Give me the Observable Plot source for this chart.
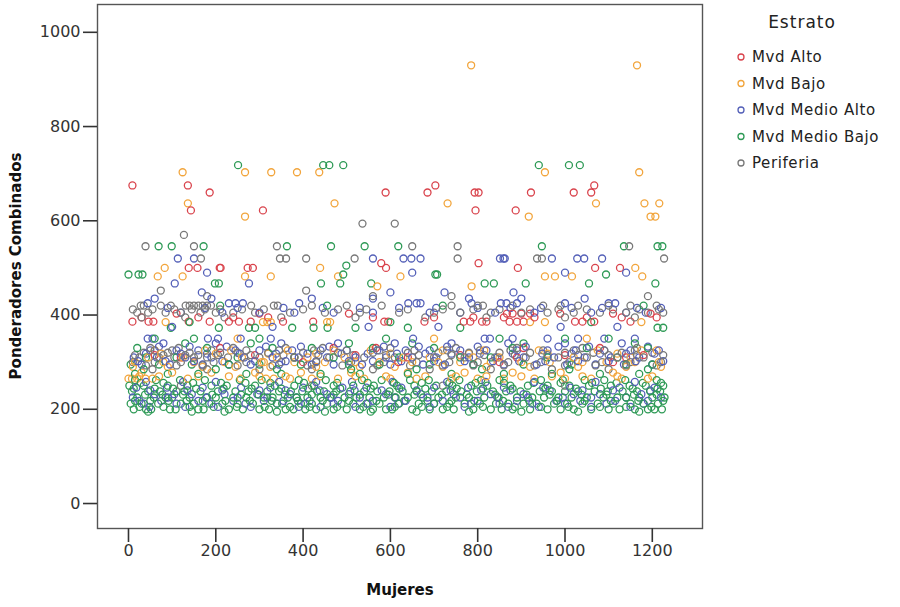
<!DOCTYPE html>
<html>
<head>
<meta charset="utf-8">
<script src="https://cdn.jsdelivr.net/npm/d3@7"></script>
<script src="https://cdn.jsdelivr.net/npm/@observablehq/plot@0.6"></script>
<style>
  html, body { margin: 0; padding: 0; background: #fff; }
  #chart svg { display: block; }
</style>
</head>
<body>
<div id="chart"></div>
<script>
// ---- Data ---------------------------------------------------------------
const estratos = ["Mvd Alto", "Mvd Bajo", "Mvd Medio Alto", "Mvd Medio Bajo", "Periferia"];
const colores = ["#d9434c", "#f2a53c", "#5460b8", "#2e9a56", "#787878"];
const xTicks = [0, 200, 400, 600, 800, 1000, 1200];
const yTicks = [0, 200, 400, 600, 800, 1000];

// rows: [ponderador, [mujer (case index), ...]]
const mvdAlto = [
  [675, [9, 136, 703, 1067]],
  [660, [186, 589, 685, 793, 802, 922, 1020, 1060]],
  [622, [143, 308, 795, 887]],
  [510, [579, 802]],
  [500, [138, 158, 209, 211, 273, 285, 590, 892, 1069, 1126]],
  [403, [110, 300, 505, 867, 880, 900, 920, 989, 1110, 1196]],
  [395, [30, 160, 240, 320, 560, 700, 790, 860, 930, 1050, 1130, 1210]],
  [386, [9, 46, 57, 138, 186, 230, 253, 280, 354, 423, 586, 595, 678, 768, 783, 810, 820, 873, 890, 905, 1023, 1040, 1067, 1150]],
  [330, [210, 470, 567, 905, 1080]],
  [315, [60, 290, 520, 760, 1000, 1180]],
  [310, [120, 380, 640, 890, 1140]],
  [300, [150, 400, 618, 850, 1110]]
];
const mvdBajo = [
  [930, [785, 1165]],
  [703, [124, 267, 327, 386, 437, 954, 1170]],
  [637, [136, 472, 731, 1071, 1182, 1216]],
  [609, [267, 917, 1196, 1207]],
  [500, [83, 439, 1161]],
  [482, [67, 124, 267, 326, 480, 623, 954, 977, 1016, 1177]],
  [461, [570, 786]],
  [385, [85, 308, 318, 326, 455, 462, 920, 954, 1175]],
  [350, [250, 700, 1050]],
  [325, [60, 175, 235, 365, 470, 555, 720, 815, 940, 1075, 1175, 1210]],
  [318, [75, 200, 320, 430, 600, 780, 960, 1120]],
  [310, [45, 125, 260, 340, 410, 495, 630, 690, 790, 850, 1020, 1150]],
  [300, [15, 80, 150, 220, 305, 310, 380, 450, 520, 575, 650, 710, 760, 830, 900, 965, 1040, 1095, 1160, 1215]],
  [290, [10, 90, 170, 245, 325, 430, 530, 610, 720, 820, 920, 1030, 1140, 1220]],
  [278, [30, 100, 190, 290, 395, 510, 640, 770, 880, 990, 1110]],
  [270, [25, 70, 160, 230, 300, 360, 440, 520, 590, 680, 750, 820, 900, 970, 1040, 1120, 1200]],
  [265, [0, 8, 20, 39, 55, 136, 257, 315, 333, 370, 420, 480, 540, 600, 660, 740, 800, 860, 930, 1000, 1060, 1130, 1190]]
];
const mvdMedioAlto = [
  [520, [113, 150, 560, 630, 648, 669, 851, 859, 862, 970, 1028, 1044, 1085]],
  [490, [180, 650, 1000, 1140]],
  [467, [106, 276]],
  [448, [168, 600, 724, 882]],
  [435, [60, 190, 420, 560, 780, 900, 1045]],
  [425, [44, 230, 245, 262, 391, 641, 660, 669, 786, 853, 866, 890, 1000, 1100, 1115]],
  [415, [90, 175, 250, 355, 445, 530, 620, 705, 800, 875, 945, 1015, 1085, 1165, 1220]],
  [405, [120, 215, 300, 380, 470, 560, 690, 760, 840, 930, 1060, 1140, 1185]],
  [375, [100, 330, 550, 710, 990, 1120]],
  [350, [44, 55, 182, 205, 257, 326, 652, 816, 828, 880, 960, 1030, 1090, 1160]],
  [340, [80, 200, 350, 480, 610, 740, 870, 1000, 1130]],
  [333, [70, 140, 225, 315, 395, 460, 585, 665, 730, 800, 910, 985, 1055, 1190]],
  [325, [50, 110, 160, 245, 300, 375, 440, 500, 570, 635, 690, 760, 820, 890, 960, 1025, 1090, 1150, 1215]],
  [318, [40, 120, 180, 255, 338, 410, 488, 548, 615, 680, 740, 805, 880, 948, 1015, 1080, 1140, 1205]],
  [310, [12, 65, 130, 190, 265, 330, 390, 455, 520, 590, 650, 705, 780, 845, 905, 975, 1045, 1105, 1170]],
  [302, [22, 85, 150, 215, 290, 360, 430, 505, 560, 625, 700, 770, 835, 895, 955, 1030, 1100, 1162, 1225]],
  [295, [30, 95, 170, 230, 280, 345, 420, 470, 535, 600, 675, 725, 790, 860, 935, 1005, 1070, 1135, 1200]],
  [258, [40, 125, 200, 345, 430, 512, 605, 730, 818, 930, 1070, 1160]],
  [246, [18, 88, 170, 258, 325, 400, 490, 545, 625, 700, 778, 860, 950, 1012, 1125, 1205]],
  [240, [50, 135, 215, 300, 360, 438, 518, 580, 660, 738, 808, 875, 965, 1040, 1110, 1195]],
  [232, [60, 105, 145, 220, 295, 370, 455, 505, 590, 670, 745, 830, 905, 1020, 1080, 1175]],
  [225, [10, 90, 180, 250, 318, 385, 465, 530, 610, 685, 760, 845, 915, 995, 1060, 1140, 1220]],
  [218, [25, 75, 160, 240, 310, 355, 415, 480, 560, 635, 720, 800, 890, 980, 1035, 1115, 1190]],
  [212, [35, 110, 190, 268, 340, 405, 470, 548, 618, 700, 785, 850, 925, 1000, 1095, 1180]],
  [205, [48, 130, 205, 280, 390, 440, 520, 600, 690, 770, 870, 940, 1060, 1150]]
];
const mvdMedioBajo = [
  [718, [251, 446, 460, 492, 940, 1009, 1034]],
  [546, [69, 99, 172, 363, 464, 541, 618, 947, 1135, 1212, 1223]],
  [505, [499]],
  [486, [0, 23, 32, 492, 703, 707, 1094]],
  [467, [198, 207, 441, 485, 556, 816, 837, 910, 1055, 1207]],
  [420, [210, 455, 720, 1180]],
  [385, [140, 600, 1060]],
  [373, [97, 207, 276, 290, 375, 424, 456, 520, 640, 760, 1212, 1225]],
  [350, [60, 150, 300, 590, 850, 1000, 1100]],
  [340, [130, 280, 505, 650, 905, 1160]],
  [330, [20, 180, 330, 420, 560, 700, 880, 1050, 1190]],
  [310, [40, 110, 250, 380, 470, 620, 760, 830, 960, 1120]],
  [295, [5, 70, 145, 230, 300, 395, 505, 575, 690, 790, 905, 1015, 1140, 1200]],
  [285, [35, 200, 340, 510, 660, 810, 1010, 1190]],
  [275, [15, 90, 160, 270, 350, 440, 530, 640, 740, 860, 970, 1080, 1170]],
  [262, [15, 63, 118, 175, 255, 305, 390, 452, 535, 580, 645, 688, 758, 808, 850, 945, 995, 1045, 1090, 1138, 1210]],
  [256, [28, 80, 148, 212, 268, 325, 402, 478, 548, 608, 672, 735, 795, 860, 928, 990, 1062, 1118, 1178, 1220]],
  [250, [2, 35, 90, 135, 190, 225, 290, 335, 380, 425, 470, 515, 562, 615, 655, 705, 742, 785, 822, 875, 915, 960, 1010, 1055, 1105, 1148, 1185, 1225]],
  [244, [12, 60, 102, 155, 218, 282, 350, 412, 485, 555, 620, 680, 752, 812, 880, 955, 1025, 1082, 1155, 1212]],
  [238, [8, 45, 72, 110, 128, 165, 205, 245, 275, 318, 345, 372, 398, 432, 448, 476, 508, 540, 570, 598, 628, 660, 695, 728, 762, 798, 835, 865, 898, 942, 970, 1000, 1030, 1068, 1098, 1132, 1165, 1195, 1218]],
  [231, [38, 78, 125, 192, 258, 298, 358, 420, 470, 530, 595, 655, 718, 775, 840, 912, 965, 1038, 1095, 1158, 1210]],
  [225, [20, 58, 85, 100, 140, 178, 200, 240, 270, 310, 330, 365, 385, 410, 440, 462, 495, 522, 552, 585, 612, 640, 675, 710, 750, 780, 815, 848, 890, 925, 952, 985, 1015, 1050, 1088, 1120, 1140, 1170, 1200, 1228]],
  [218, [15, 50, 92, 133, 170, 222, 278, 328, 388, 445, 505, 568, 632, 685, 740, 792, 858, 918, 982, 1045, 1105, 1168, 1225]],
  [212, [5, 30, 68, 120, 150, 185, 215, 250, 285, 340, 352, 395, 420, 455, 488, 515, 545, 575, 620, 665, 700, 735, 770, 805, 842, 870, 905, 935, 975, 1005, 1040, 1075, 1110, 1150, 1180, 1213]],
  [205, [25, 80, 140, 195, 248, 312, 370, 415, 478, 538, 610, 672, 730, 812, 885, 945, 1008, 1080, 1140, 1198]],
  [200, [12, 40, 52, 95, 108, 160, 172, 230, 262, 300, 322, 360, 378, 405, 430, 470, 500, 530, 560, 590, 604, 650, 690, 720, 745, 790, 830, 855, 880, 920, 960, 990, 1020, 1060, 1100, 1125, 1160, 1190, 1205, 1222]],
  [195, [45, 145, 220, 340, 450, 555, 660, 780, 900, 1030, 1170]]
];
const periferia = [
  [594, [536, 610]],
  [570, [127]],
  [546, [39, 150, 340, 650, 754, 1147]],
  [520, [166, 347, 361, 407, 518, 754, 936, 947, 1227]],
  [452, [74, 407]],
  [440, [180, 560, 740, 1190]],
  [420, [28, 35, 74, 97, 131, 140, 150, 160, 170, 180, 189, 281, 333, 342, 420, 500, 580, 740, 800, 812, 880, 950, 990, 1030, 1100, 1150, 1210]],
  [412, [10, 55, 105, 145, 175, 210, 260, 310, 400, 480, 545, 640, 720, 790, 850, 920, 985, 1050, 1110, 1170, 1215]],
  [405, [20, 45, 85, 120, 165, 200, 240, 290, 370, 450, 530, 620, 700, 760, 830, 900, 960, 1020, 1080, 1140, 1190, 1225]],
  [395, [30, 130, 220, 350, 520, 680, 820, 1000, 1160]],
  [330, [50, 115, 240, 360, 445, 600, 750, 890, 1040, 1165]],
  [325, [60, 100, 190, 270, 345, 425, 500, 575, 655, 730, 805, 875, 950, 1020, 1090, 1160]],
  [320, [35, 90, 140, 210, 250, 320, 400, 480, 560, 640, 710, 780, 850, 920, 1000, 1065, 1130, 1200]],
  [315, [15, 80, 130, 160, 205, 280, 355, 435, 515, 590, 665, 740, 815, 885, 960, 1030, 1100, 1165, 1225]],
  [310, [25, 70, 105, 150, 180, 228, 300, 380, 460, 540, 610, 700, 770, 840, 910, 985, 1050, 1120, 1180]],
  [300, [10, 60, 120, 195, 270, 350, 430, 510, 585, 660, 735, 800, 870, 945, 1010, 1085, 1150, 1220]],
  [293, [40, 110, 170, 250, 330, 410, 490, 570, 645, 720, 790, 860, 930, 1000, 1070, 1140, 1210]],
  [285, [55, 180, 300, 420, 560, 690, 830, 970, 1100]],
  [250, [120, 420, 720, 1000]]
];

// ---- Build records -------------------------------------------------------
const groups = [mvdAlto, mvdBajo, mvdMedioAlto, mvdMedioBajo, periferia];
const puntos = [];
groups.forEach((rows, i) => {
  rows.forEach(([y, xs]) => xs.forEach(x => puntos.push({mujer: x, ponderador: y, estrato: estratos[i]})));
});
puntos.sort((a, b) => a.mujer - b.mujer); // draw in case order, as the source does

const fontFam = "DejaVu Sans, sans-serif";

const chart = Plot.plot({
  width: 900,
  height: 607,
  marginLeft: 97,
  marginRight: 198,
  marginTop: 4,
  marginBottom: 79,
  style: {fontFamily: fontFam, background: "#fff", color: "#333"},
  x: {domain: [-71, 1315], label: null},
  y: {domain: [-53, 1059], label: null},
  color: {domain: estratos, range: colores},
  marks: [
    Plot.dot(puntos, {x: "mujer", y: "ponderador", stroke: "estrato", r: 3.5, strokeWidth: 1.3, fill: "none"}),
    Plot.frame({stroke: "#555", strokeWidth: 1.4}),
    Plot.axisX({ticks: xTicks, tickFormat: d => String(d), tickSize: 14, tickPadding: 2, fontSize: 16, stroke: "#333", strokeWidth: 1.6, label: null}),
    Plot.axisY({ticks: yTicks, tickFormat: d => String(d), tickSize: 14, tickPadding: 3, fontSize: 16, stroke: "#333", strokeWidth: 1.6, label: null})
  ]
});
document.getElementById("chart").appendChild(chart);

// ---- Axis titles and legend ---------------------------------------------
const svg = d3.select(chart);
svg.append("text")
  .attr("x", 400).attr("y", 595)
  .attr("text-anchor", "middle")
  .attr("font-family", fontFam).attr("font-weight", "bold").attr("font-size", 15)
  .attr("fill", "#111")
  .text("Mujeres");
svg.append("text")
  .attr("transform", "translate(21,266) rotate(-90)")
  .attr("text-anchor", "middle")
  .attr("font-family", fontFam).attr("font-weight", "bold").attr("font-size", 15)
  .attr("fill", "#111")
  .text("Ponderadores Combinados");

const leg = svg.append("g").attr("font-family", fontFam).attr("text-anchor", "start");
leg.append("text")
  .attr("x", 802).attr("y", 28)
  .attr("text-anchor", "middle").attr("font-size", 17).attr("letter-spacing", 1).attr("fill", "#222")
  .text("Estrato");
estratos.forEach((e, i) => {
  const cy = 57 + i * 26.5;
  leg.append("circle").attr("cx", 741).attr("cy", cy).attr("r", 3)
    .attr("fill", "none").attr("stroke", colores[i]).attr("stroke-width", 1.3);
  leg.append("text").attr("x", 752).attr("y", cy).attr("dy", "0.35em")
    .attr("text-anchor", "start").attr("letter-spacing", 0.6)
    .attr("font-size", 15).attr("fill", "#222").text(e);
});
</script>
</body>
</html>
